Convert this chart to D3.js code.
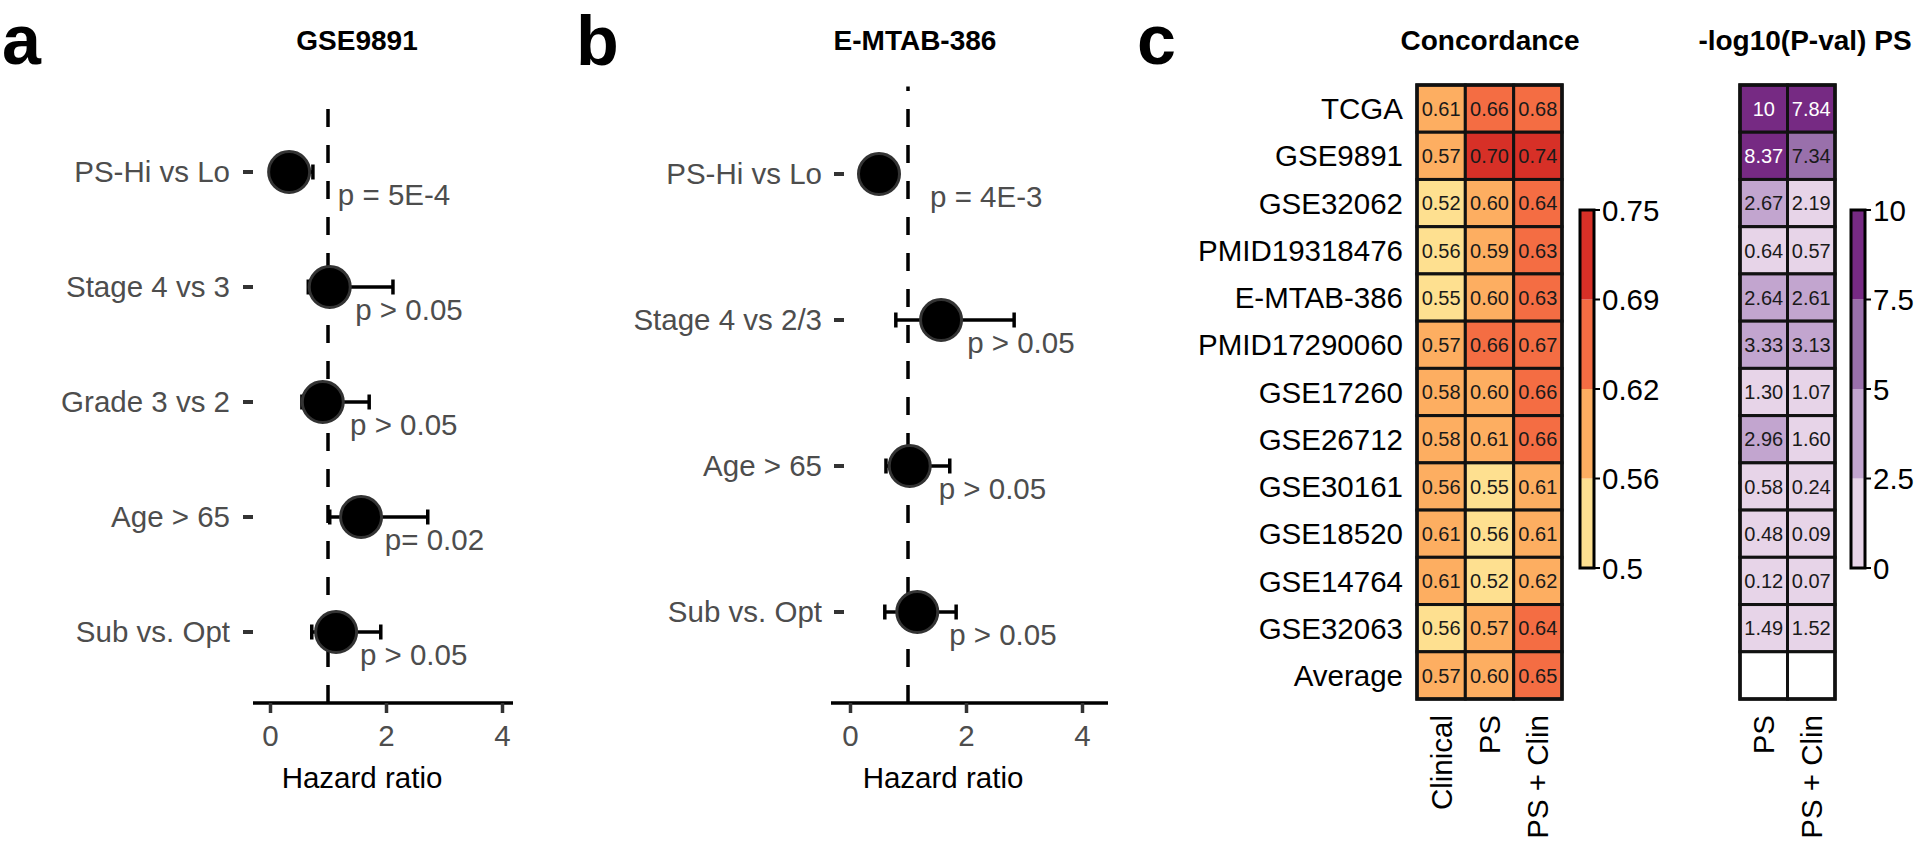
<!DOCTYPE html>
<html>
<head>
<meta charset="utf-8">
<script src="https://cdn.jsdelivr.net/npm/d3@7"></script>
<style>
  body { margin: 0; background: #fff; }
  svg text { font-family: 'Liberation Sans', Arial, Helvetica, sans-serif; }
</style>
</head>
<body>
<div id="chart"></div>
<script>
// forest plot a — GSE9891
const catsA = ['PS-Hi vs Lo', 'Stage 4 vs 3', 'Grade 3 vs 2', 'Age > 65', 'Sub vs. Opt'];
const hrA = [0.33, 1.03, 0.91, 1.57, 1.14];
const loA = [0.15, 0.66, 0.55, 1.03, 0.72];
const hiA = [0.74, 2.12, 1.71, 2.72, 1.91];
const pTextA = ['p = 5E-4', 'p > 0.05', 'p > 0.05', 'p= 0.02', 'p > 0.05'];
const pPosA = [1.17, 1.47, 1.38, 1.98, 1.55];

// forest plot b — E-MTAB-386
const catsB = ['PS-Hi vs Lo', 'Stage 4 vs 2/3', 'Age > 65', 'Sub vs. Opt'];
const hrB = [0.50, 1.57, 1.03, 1.16];
const loB = [0.25, 0.79, 0.62, 0.60];
const hiB = [0.80, 2.83, 1.72, 1.83];
const pTextB = ['p = 4E-3', 'p > 0.05', 'p > 0.05', 'p > 0.05'];
const pPosB = [1.38, 2.02, 1.53, 1.71];

const hrTicks = [0, 2, 4];

// heatmaps c
const datasets = ['TCGA', 'GSE9891', 'GSE32062', 'PMID19318476', 'E-MTAB-386', 'PMID17290060',
  'GSE17260', 'GSE26712', 'GSE30161', 'GSE18520', 'GSE14764', 'GSE32063', 'Average'];
const concCols = ['Clinical', 'PS', 'PS + Clin'];
const concClinical = [0.61, 0.57, 0.52, 0.56, 0.55, 0.57, 0.58, 0.58, 0.563, 0.61, 0.61, 0.56, 0.57];
const concPS = [0.66, 0.70, 0.60, 0.59, 0.60, 0.66, 0.60, 0.61, 0.55, 0.56, 0.52, 0.57, 0.60];
const concPSClin = [0.68, 0.74, 0.64, 0.63, 0.63, 0.67, 0.66, 0.66, 0.61, 0.61, 0.62, 0.64, 0.65];
const concBreaks = [0.5, 0.5625, 0.625, 0.6875, 0.75];
const concBreakLabels = ['0.5', '0.56', '0.62', '0.69', '0.75'];
const concColors = ['#fee090', '#fdae61', '#f46d43', '#d73027'];

const pvalCols = ['PS', 'PS + Clin'];
const pvalPS = [10, 8.37, 2.67, 0.64, 2.64, 3.33, 1.30, 2.96, 0.58, 0.48, 0.12, 1.49, null];
const pvalPSClin = [7.84, 7.34, 2.19, 0.57, 2.61, 3.13, 1.07, 1.60, 0.24, 0.09, 0.07, 1.52, null];
const pvalBreaks = [0, 2.5, 5, 7.5, 10];
const pvalBreakLabels = ['0', '2.5', '5', '7.5', '10'];
const pvalColors = ['#e7d4e8', '#c2a5cf', '#9970ab', '#762a83'];

const W = 1920, H = 845;
const GREY = '#4d4d4d';
const FS = '29.5px';
const svg = d3.select('#chart').append('svg')
  .attr('width', W).attr('height', H)
  .style('background', '#fff');

function panelLetter(letter, x, y) {
  svg.append('text')
    .attr('x', x).attr('y', y)
    .attr('font-size', '70px')
    .attr('font-weight', 'bold')
    .text(letter);
}

function title(txt, x) {
  svg.append('text')
    .attr('x', x).attr('y', 50)
    .attr('text-anchor', 'middle')
    .attr('font-size', '28px')
    .attr('font-weight', 'bold')
    .text(txt);
}

function forest(o) {
  const x = d3.scaleLinear().domain([0, 4]).range(o.xRange);
  const y = d3.scalePoint().domain(o.cats).range(o.yRange);
  const step = y.step();
  const g = svg.append('g');
  const axisY = 703;

  // reference line at HR = 1, dashes laid from the bottom up
  g.append('line')
    .attr('x1', x(1)).attr('x2', x(1))
    .attr('y1', axisY).attr('y2', o.yRange[0] - 0.6 * step)
    .attr('stroke', '#000')
    .attr('stroke-width', 3.5)
    .attr('stroke-dasharray', '18,18');

  // y ticks + labels
  o.cats.forEach(c => {
    g.append('line')
      .attr('x1', o.tick[0]).attr('x2', o.tick[1])
      .attr('y1', y(c)).attr('y2', y(c))
      .attr('stroke', '#333').attr('stroke-width', 4);
    g.append('text')
      .attr('x', o.labelRight).attr('y', y(c))
      .attr('dy', '0.35em')
      .attr('text-anchor', 'end')
      .attr('fill', GREY)
      .attr('font-size', FS)
      .text(c);
  });

  // error bars
  o.cats.forEach((c, i) => {
    const cy = y(c);
    g.append('line')
      .attr('x1', x(o.lo[i])).attr('x2', x(o.hi[i]))
      .attr('y1', cy).attr('y2', cy)
      .attr('stroke', '#000').attr('stroke-width', 3.5);
    [o.lo[i], o.hi[i]].forEach(v => {
      g.append('line')
        .attr('x1', x(v)).attr('x2', x(v))
        .attr('y1', cy - 7.5).attr('y2', cy + 7.5)
        .attr('stroke', '#000').attr('stroke-width', 3.5);
    });
  });

  // points
  g.selectAll('circle.pt')
    .data(o.cats)
    .join('circle')
    .attr('class', 'pt')
    .attr('cx', (c, i) => x(o.hr[i]))
    .attr('cy', c => y(c))
    .attr('r', 20.5)
    .attr('fill', '#000')
    .attr('stroke', '#333')
    .attr('stroke-width', 3);

  // p value annotations
  o.cats.forEach((c, i) => {
    g.append('text')
      .attr('x', x(o.pPos[i])).attr('y', y(c) + 33)
      .attr('fill', GREY)
      .attr('font-size', FS)
      .text(o.pText[i]);
  });

  // x axis
  g.append('line')
    .attr('x1', o.axisExt[0]).attr('x2', o.axisExt[1])
    .attr('y1', axisY).attr('y2', axisY)
    .attr('stroke', '#000').attr('stroke-width', 3.5);
  const ax = g.append('g')
    .attr('transform', `translate(0,${axisY})`)
    .call(d3.axisBottom(x).tickValues(hrTicks).tickSize(10).tickPadding(12).tickFormat(d3.format('d')));
  ax.select('.domain').remove();
  ax.attr('font-family', null).attr('font-size', null);
  ax.selectAll('.tick line').attr('stroke', '#333').attr('stroke-width', 3.5);
  ax.selectAll('.tick text').attr('fill', GREY).attr('font-size', FS);

  g.append('text')
    .attr('x', o.axisTitleX).attr('y', 788)
    .attr('text-anchor', 'middle')
    .attr('font-size', FS)
    .text('Hazard ratio');
}

panelLetter('a', 2, 64);
title('GSE9891', 357);
forest({
  cats: catsA, hr: hrA, lo: loA, hi: hiA, pText: pTextA, pPos: pPosA,
  xRange: [270, 502], yRange: [172, 632], axisExt: [253, 513],
  tick: [243, 253], labelRight: 230, axisTitleX: 362
});

panelLetter('b', 576, 65);
title('E-MTAB-386', 915);
forest({
  cats: catsB, hr: hrB, lo: loB, hi: hiB, pText: pTextB, pPos: pPosB,
  xRange: [850, 1082], yRange: [174, 612], axisExt: [831, 1108],
  tick: [834, 844], labelRight: 822, axisTitleX: 943
});

// ---- panel c: heatmaps ----
panelLetter('c', 1137, 64);
title('Concordance', 1490);
title('-log10(P-val) PS', 1805);

const yRow = d3.scaleBand().domain(datasets).range([85, 699]);

// row labels
svg.append('g')
  .selectAll('text')
  .data(datasets)
  .join('text')
  .attr('x', 1403)
  .attr('y', d => yRow(d) + yRow.bandwidth() / 2)
  .attr('dy', '0.36em')
  .attr('text-anchor', 'end')
  .attr('font-size', FS)
  .text(d => d);

function heatmap(cols, series, xRange, color, textColor, fmt) {
  const x = d3.scaleBand().domain(cols).range(xRange);
  const g = svg.append('g');
  cols.forEach((c, ci) => {
    datasets.forEach((r, ri) => {
      const v = series[ci][ri];
      g.append('rect')
        .attr('x', x(c)).attr('y', yRow(r))
        .attr('width', x.bandwidth()).attr('height', yRow.bandwidth())
        .attr('fill', v == null ? '#fff' : color(v))
        .attr('stroke', '#111').attr('stroke-width', 3);
      if (v != null) {
        g.append('text')
          .attr('x', x(c) + x.bandwidth() / 2)
          .attr('y', yRow(r) + yRow.bandwidth() / 2)
          .attr('dy', '0.36em')
          .attr('text-anchor', 'middle')
          .attr('font-size', '20px')
          .attr('fill', textColor(v))
          .text(fmt(v));
      }
    });
    g.append('text')
      .attr('transform', `translate(${x(c) + x.bandwidth() / 2},715) rotate(-90)`)
      .attr('dy', '0.36em')
      .attr('text-anchor', 'end')
      .attr('font-size', FS)
      .text(c);
  });
  g.append('rect')
    .attr('x', xRange[0]).attr('y', 85)
    .attr('width', xRange[1] - xRange[0]).attr('height', 699 - 85)
    .attr('fill', 'none').attr('stroke', '#111').attr('stroke-width', 3.5);
}

function legend(breaks, labels, colors, x0) {
  const y = d3.scaleLinear().domain([breaks[0], breaks[breaks.length - 1]]).range([568, 210]);
  const g = svg.append('g');
  const bw = 14;
  colors.forEach((c, i) => {
    g.append('rect')
      .attr('x', x0).attr('y', y(breaks[i + 1]))
      .attr('width', bw).attr('height', y(breaks[i]) - y(breaks[i + 1]))
      .attr('fill', c);
  });
  g.append('rect')
    .attr('x', x0).attr('y', y(breaks[breaks.length - 1]))
    .attr('width', bw).attr('height', y(breaks[0]) - y(breaks[breaks.length - 1]))
    .attr('fill', 'none').attr('stroke', '#000').attr('stroke-width', 3);
  breaks.forEach((b, i) => {
    g.append('line')
      .attr('x1', x0 + bw).attr('x2', x0 + bw + 6)
      .attr('y1', y(b)).attr('y2', y(b))
      .attr('stroke', '#000').attr('stroke-width', 2);
    g.append('text')
      .attr('x', x0 + bw + 8).attr('y', y(b))
      .attr('dy', '0.36em')
      .attr('font-size', FS)
      .text(labels[i]);
  });
}

const concColor = d3.scaleThreshold().domain(concBreaks.slice(1, -1)).range(concColors);
const pvalColor = d3.scaleThreshold().domain(pvalBreaks.slice(1, -1)).range(pvalColors);

heatmap(concCols, [concClinical, concPS, concPSClin], [1417, 1562], concColor,
  () => '#1a1a1a', v => v.toFixed(2));
heatmap(pvalCols, [pvalPS, pvalPSClin], [1740, 1835], pvalColor,
  v => (v >= 7.5 ? '#fff' : '#1a1a1a'), v => (Number.isInteger(v) ? String(v) : v.toFixed(2)));

legend(concBreaks, concBreakLabels, concColors, 1580);
legend(pvalBreaks, pvalBreakLabels, pvalColors, 1851);
</script>
</body>
</html>
